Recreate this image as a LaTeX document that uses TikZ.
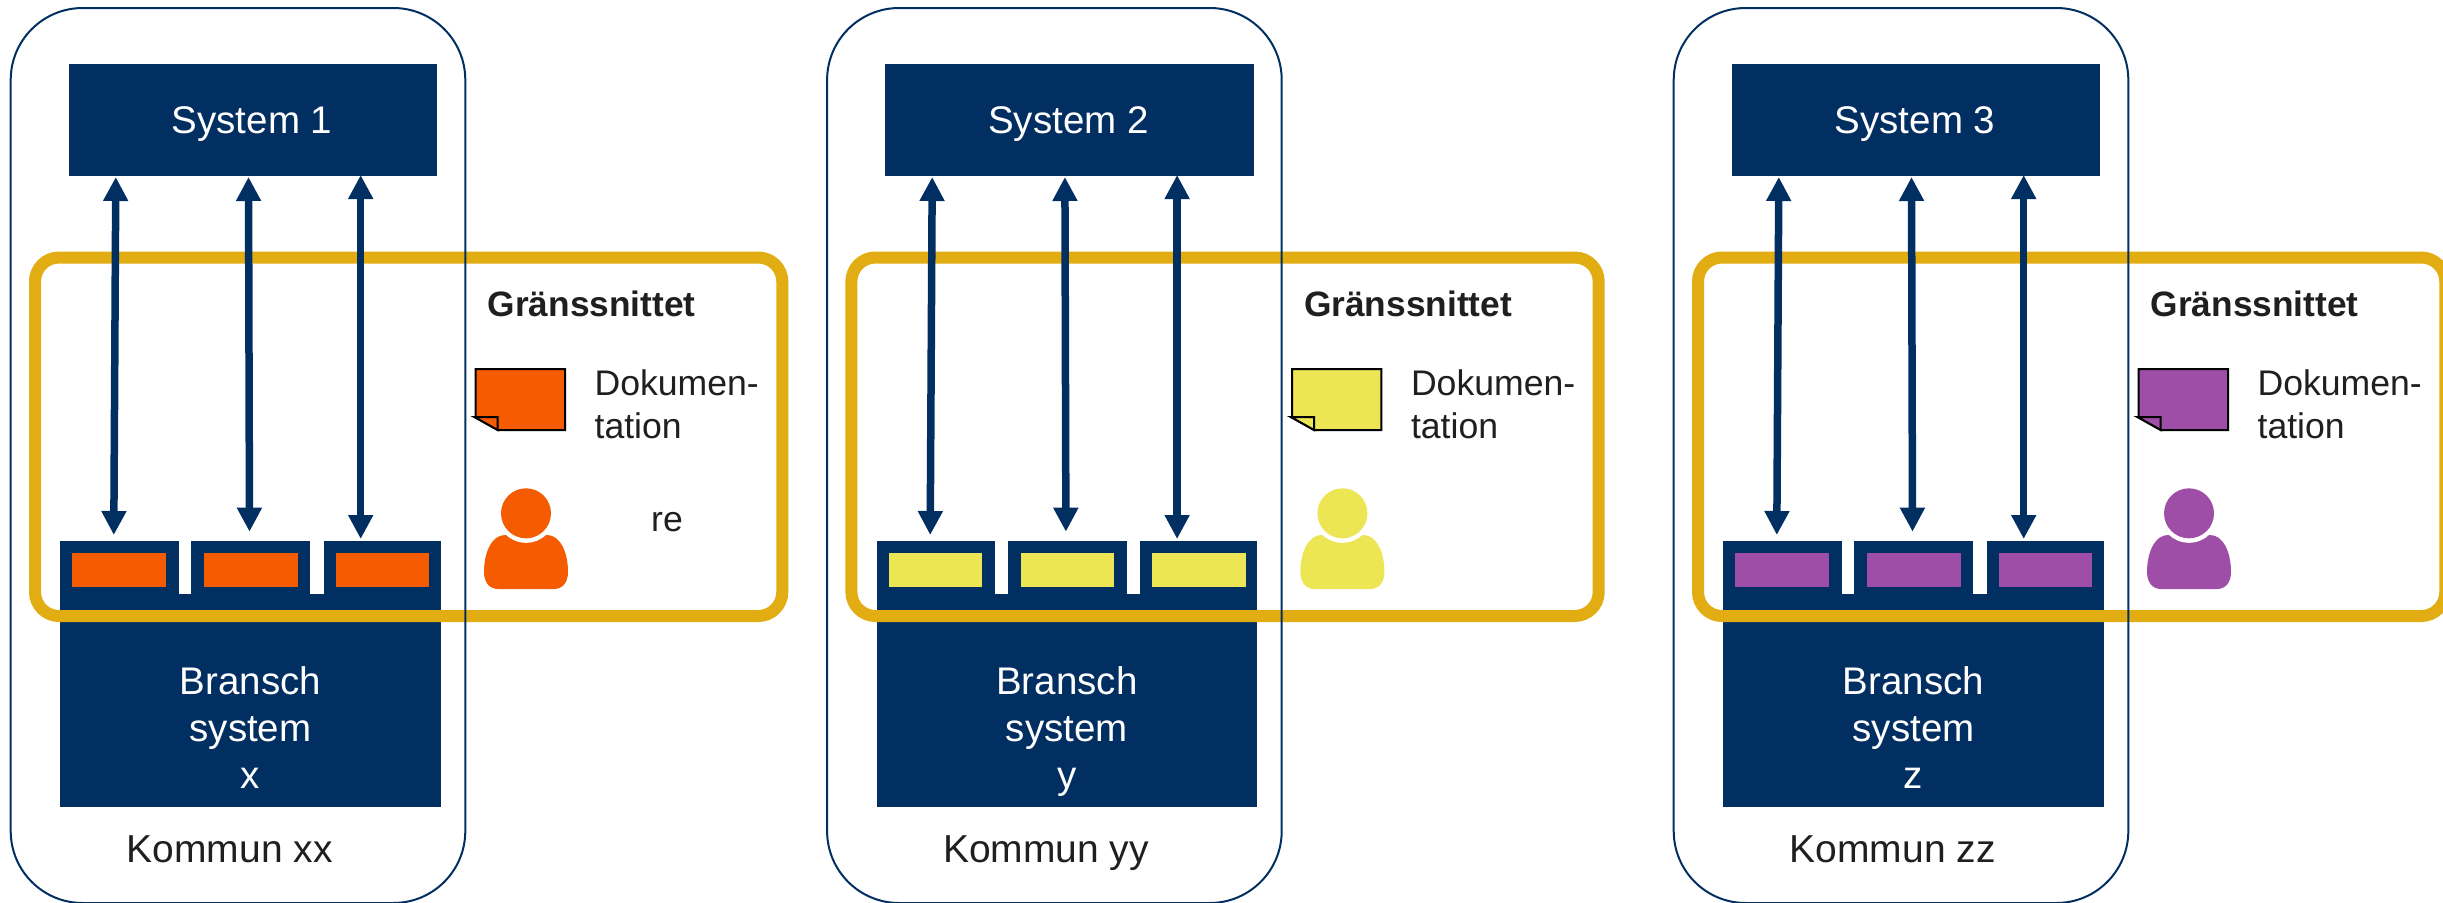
\documentclass[tikz,border=0pt]{standalone}
\usepackage{fontspec}
\setmainfont{Liberation Sans}
\usetikzlibrary{arrows.meta}
\definecolor{navy}{HTML}{022F62}
\definecolor{goldline}{HTML}{E1AD12}
\definecolor{inkdark}{HTML}{1F1F1F}
\definecolor{orangefill}{HTML}{F55B00}
\definecolor{yellowfill}{HTML}{ECE554}
\definecolor{purplefill}{HTML}{9F4EA8}
\tikzset{
  navybox/.style={fill=navy,draw=none,inner sep=0pt,outer sep=0pt,anchor=north west},
  slotbox/.style={draw=none,inner sep=0pt,outer sep=0pt,anchor=north west,minimum width=93.4pt,minimum height=33.4pt},
  whitelabel/.style={text=white,inner sep=0pt,font=\fontsize{38.5}{47}\selectfont,align=center},
  darklabel/.style={text=inkdark,inner sep=0pt,font=\fontsize{39}{46}\selectfont,anchor=base west},
  headlabel/.style={text=inkdark,inner sep=0pt,font=\bfseries\fontsize{35.3}{42.7}\selectfont,anchor=base west},
  doclabel/.style={text=inkdark,inner sep=0pt,font=\fontsize{35.6}{42.7}\selectfont,align=left},
  linkarrow/.style={draw=navy,line width=7.5pt,{Triangle[length=24pt,width=23.6pt]}-{Triangle[length=24pt,width=23.6pt]}},
  kommunframe/.style={draw=navy,line width=2pt,rounded corners=72pt},
  goldframe/.style={draw=goldline,line width=12pt,rounded corners=24pt},
  noteline/.style={draw=black,line width=2pt,line join=miter},
}
\newcommand{\kommunpanel}[6]{%
\begin{scope}[xshift=#2pt]
  % branch system
  \node[navybox,minimum width=380.6pt,minimum height=212.7pt] (base#1) at (60.2,594) {};
  \node[navybox,minimum width=118.4pt,minimum height=54pt] (taba#1) at (60.2,541) {};
  \node[navybox,minimum width=118.9pt,minimum height=54pt] (tabb#1) at (191.3,541) {};
  \node[navybox,minimum width=117.3pt,minimum height=54pt] (tabc#1) at (323.5,541) {};
  \node[slotbox,fill=#3] (slota#1) at (72.4,553.3) {};
  \node[slotbox,fill=#3] (slotb#1) at (204.1,553.3) {};
  \node[slotbox,fill=#3] (slotc#1) at (335.7,553.3) {};
  \node[whitelabel] (branch#1) at (250.5,732) {Bransch\\system\\#5\vphantom{y}};
  % interface frame
  \draw[goldframe] (35,257.5) rectangle (782.3,616);
  % municipality frame
  \draw[kommunframe] (10.7,8) rectangle (465.3,903);
  % top system
  \node[navybox,minimum width=368.3pt,minimum height=112pt] (sys#1) at (68.9,64) {};
  \node[whitelabel,anchor=base] (syslabel#1) at (252,133.3) {#4};
  % connectors
  \coordinate (ta#1) at (115.8,177); \coordinate (ba#1) at (113.8,535);
  \coordinate (tb#1) at (248.5,177); \coordinate (bb#1) at (249.5,531.7);
  \coordinate (tc#1) at (360.7,175); \coordinate (bc#1) at (360.7,539);
  \draw[linkarrow] (ta#1) -- (ba#1);
  \draw[linkarrow] (tb#1) -- (bb#1);
  \draw[linkarrow] (tc#1) -- (bc#1);
  % labels
  \node[darklabel] (kommun#1) at (126.5,862) {#6};
  \node[headlabel] (head#1) at (487.5,316.7) {Gränssnittet};
  \node[doclabel,anchor=west] (doc#1) at (594.4,404.5) {Dokumen-\\tation};
  % note icon
  \filldraw[noteline,fill=#3] (475.7,369) -- (565,369) -- (565,430) -- (497.7,430) -- (474.5,417) -- (475.7,417) -- cycle;
  \filldraw[noteline,fill=#3] (474.5,417) -- (497.7,417) -- (497.7,430) -- cycle;
  % person icon
  \fill[#3] (505,535) .. controls (492,535) and (484,552) .. (484,572)
     .. controls (484,583) and (490,589) .. (498,589) -- (554,589)
     .. controls (562,589) and (568,583) .. (568,572)
     .. controls (568,552) and (560,535) .. (547,535) -- cycle;
  \fill[white] (526,513.3) circle (29.5pt);
  \fill[#3] (526,513.3) circle (25pt);
\end{scope}}
\begin{document}
\begin{tikzpicture}[x=1pt,y=-1pt]
  \useasboundingbox (0,0) rectangle (2443,902);
  \clip (0,0) rectangle (2443,902);
  \kommunpanel{x}{0}{orangefill}{System 1}{x}{Kommun xx}
  \kommunpanel{y}{816.4}{yellowfill}{System 2}{y}{Kommun yy}
  \kommunpanel{z}{1663}{purplefill}{System 3}{z}{Kommun zz}
  \node[text=inkdark,inner sep=0pt,font=\fontsize{35.6}{42.7}\selectfont,anchor=base west] (relabel) at (651,531) {re};
\end{tikzpicture}
\end{document}
